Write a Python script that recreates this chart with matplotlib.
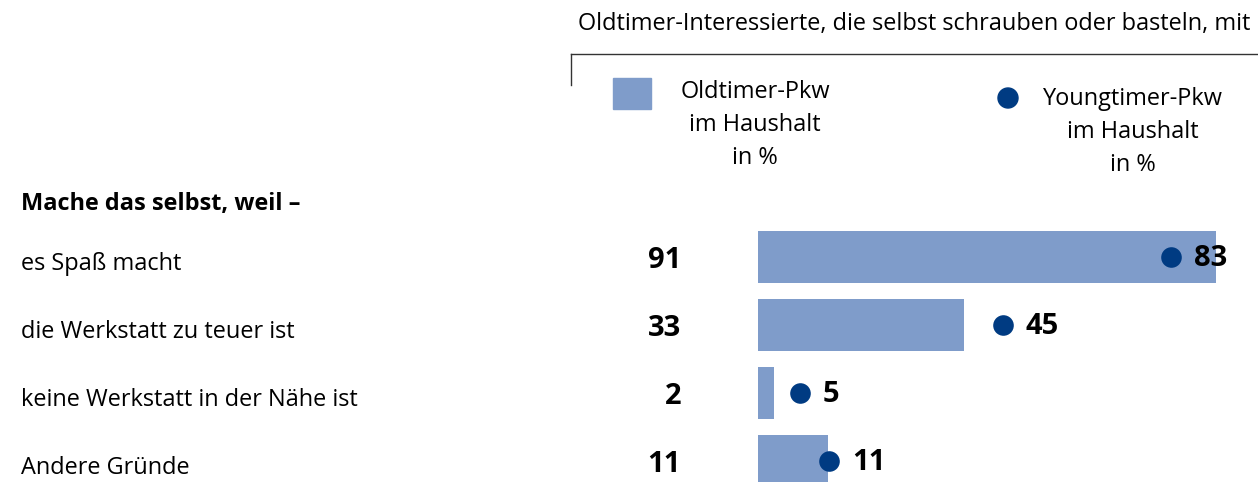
import matplotlib
matplotlib.use("Agg")
import matplotlib.pyplot as plt
from matplotlib.patches import Rectangle, Ellipse
from matplotlib.lines import Line2D

# ---- data ----
categories = ["es Spaß macht", "die Werkstatt zu teuer ist",
              "keine Werkstatt in der Nähe ist", "Andere Gründe"]
oldtimer_pct = [91, 33, 2, 11]          # printed values (Oldtimer-Pkw)
youngtimer_pct = [83, 45, 5, 11]        # printed values (Youngtimer-Pkw)
# lengths / positions as drawn in the picture (same scale, 91-bar = 91)
bar_drawn = [91, 40.9, 3.2, 13.9]
dot_drawn = [82.0, 48.6, 8.3, 14.2]
heading = "Mache das selbst, weil –"
title = "Oldtimer-Interessierte, die selbst schrauben oder basteln, mit"
legend_old = "Oldtimer-Pkw\nim Haushalt\nin %"
legend_young = "Youngtimer-Pkw\nim Haushalt\nin %"

BAR_C = "#7F9CCA"
DOT_C = "#003B82"
FONT = "Open Sans"
FS = 16.9
FS_NUM = 21

W, H = 1258, 482
fig = plt.figure(figsize=(W / 100, H / 100), dpi=100)
plt.rcParams["font.family"] = [FONT, "DejaVu Sans"]

def fx(x):
    return x / W

def fy(y):
    return 1 - y / H

# ---- bar axes ----
x0_px = 758
px_per_unit = 458 / 91
ax = fig.add_axes([fx(x0_px), 0, (W - x0_px) / W, 1])
ax.set_xlim(0, (W - x0_px) / px_per_unit)
row_px0, row_step = 257, 68
ax.set_ylim((H - row_px0) / row_step, -row_px0 / row_step)
ax.axis("off")

ypos = list(range(len(categories)))
ax.barh(ypos, bar_drawn, height=52 / 68, color=BAR_C, left=0)
ax.scatter(dot_drawn, ypos, s=20 ** 2 * 0.55, color=DOT_C, zorder=3, linewidths=0)
for y, xd, v in zip(ypos, dot_drawn, youngtimer_pct):
    ax.annotate(str(v), (xd, y), xytext=(23, -1), textcoords="offset pixels",
                va="center", ha="left", fontsize=FS_NUM, fontweight="bold",
                color="black", zorder=4)

# ---- left labels and Oldtimer numbers ----
fig.text(fx(21), fy(204), heading, fontsize=FS, fontweight="bold",
         va="center", ha="left")
for i, (cat, v) in enumerate(zip(categories, oldtimer_pct)):
    yc = row_px0 + row_step * i
    fig.text(fx(21), fy(yc + 7), cat, fontsize=FS, va="center", ha="left")
    fig.text(fx(681), fy(yc + 4), str(v), fontsize=FS_NUM, fontweight="bold",
             va="center", ha="right")

# ---- title & legend ----
fig.text(fx(578), fy(24), title, fontsize=FS, va="center", ha="left")
fig.add_artist(Line2D([fx(571), fx(571)], [fy(54), fy(85)], transform=fig.transFigure,
                      color="#333333", lw=1))
fig.add_artist(Line2D([fx(571), 1], [fy(54), fy(54)], transform=fig.transFigure,
                      color="#333333", lw=1))
fig.add_artist(Rectangle((fx(613), fy(109)), 38 / W, 31 / H,
                         transform=fig.transFigure, color=BAR_C))
fig.text(fx(755), fy(125), legend_old, fontsize=FS, va="center", ha="center",
         linespacing=1.48, multialignment="center")
fig.add_artist(Ellipse((fx(1008), fy(98)), 20 / W, 20 / H, transform=fig.transFigure,
                       color=DOT_C))
fig.text(fx(1133), fy(132), legend_young, fontsize=FS, va="center", ha="center",
         linespacing=1.48, multialignment="center")

fig.savefig("out.png", dpi=100)
